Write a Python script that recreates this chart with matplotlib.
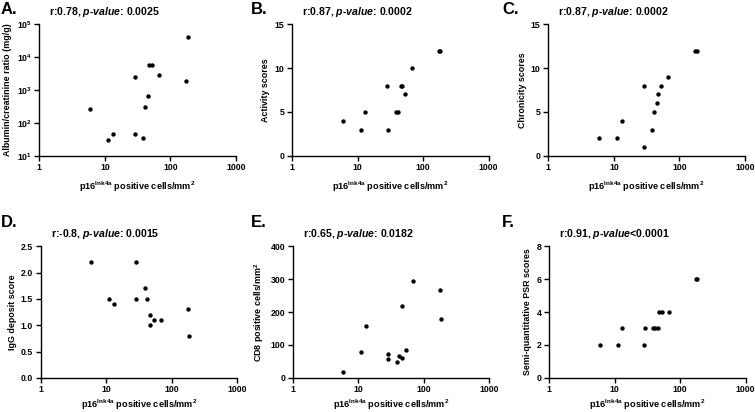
import numpy as np
import matplotlib
matplotlib.use("Agg")
import matplotlib.pyplot as plt
from matplotlib.ticker import NullLocator, FixedLocator

plt.rcParams['font.family'] = ['Liberation Sans', 'DejaVu Sans']
plt.rcParams['font.weight'] = 'bold'
plt.rcParams['mathtext.fontset'] = 'custom'
plt.rcParams['mathtext.default'] = 'regular'
plt.rcParams['mathtext.it'] = 'Liberation Sans:italic:bold'
plt.rcParams['mathtext.rm'] = 'Liberation Sans:bold'

# p16Ink4a positive cells/mm2 (same cases in every panel)
p16 = [5.9, 11.2, 13.1, 28.5, 28.7, 38.6, 41.5, 46.0, 46.8, 52.8, 68.0, 174, 184]

albumin = [270, 31, 46, 2430, 46, 36, 310, 640, 5800, 5800, 2860, 1840, 42000]
activity = [4, 3, 5, 8, 3, 5, 5, 8, 8, 7, 10, 12, 12]
chronicity = [2, 2, 4, 8, 1, 3, 5, 6, 7, 8, 9, 12, 12]
igg = [2.2, 1.5, 1.4, 2.2, 1.5, 1.7, 1.5, 1.2, 1.0, 1.1, 1.1, 1.3, 0.8]
cd8 = [17, 77, 157, 71, 57, 49, 67, 59, 217, 84, 295, 266, 180]
psr = [2, 2, 3, 2, 3, 3, 3, 3, 4, 4, 4, 6, 6]

panels = [
    ("A.", albumin, "Albumin/creatinine ratio (mg/g)", "r:0.78, $\\mathit{p}$-$\\mathit{value}$: 0.0025", None),
    ("B.", activity, "Activity scores", "r:0.87, $\\mathit{p}$-$\\mathit{value}$: 0.0002", [0, 5, 10, 15]),
    ("C.", chronicity, "Chronicity scores", "r:0.87, $\\mathit{p}$-$\\mathit{value}$: 0.0002", [0, 5, 10, 15]),
    ("D.", igg, "IgG deposit score", "r:-0.8, $\\mathit{p}$-$\\mathit{value}$: 0.0015", [0, 0.5, 1.0, 1.5, 2.0, 2.5]),
    ("E.", cd8, "CD8 positive cells/mm$^2$", "r:0.65, $\\mathit{p}$-$\\mathit{value}$: 0.0182", [0, 100, 200, 300, 400]),
    ("F.", psr, "Semi-quantitative PSR scores", "r:0.91, $\\mathit{p}$-$\\mathit{value}$<0.0001", [0, 2, 4, 6, 8]),
]

# axes boxes in pixels (left, top) for a 755x412 figure
W, H = 755, 412
boxes = [(39.3, 24.3), (292, 24.3), (548.3, 24.3),
         (40.7, 246.3), (292.7, 246.3), (549, 246.3)]
aw, ah = 196.7, 131.5
label_pos = [(1, 2), (251, 2), (502, 2), (1, 215), (251, 215), (502, 215)]

fig = plt.figure(figsize=(W / 100, H / 100), dpi=100)

for i, (lab, yv, ylab, title, yticks) in enumerate(panels):
    l, t = boxes[i]
    ax = fig.add_axes([l / W, 1 - (t + ah) / H, aw / W, ah / H])
    ax.scatter(p16, yv, s=10, color='black', linewidths=0, zorder=3, clip_on=False)
    ax.set_xscale('log')
    ax.set_xlim(1, 1000)
    ax.xaxis.set_major_locator(FixedLocator([1, 10, 100, 1000]))
    ax.xaxis.set_minor_locator(NullLocator())
    ax.set_xticklabels(['1', '10', '100', '1000'])
    if yticks is None:
        ax.set_yscale('log')
        ax.set_ylim(10, 1e5)
        ax.yaxis.set_major_locator(FixedLocator([10, 100, 1e3, 1e4, 1e5]))
        ax.yaxis.set_minor_locator(NullLocator())
        ax.set_yticklabels(['10$^{%d}$' % k for k in range(1, 6)])
    else:
        ax.set_ylim(yticks[0], yticks[-1])
        ax.set_yticks(yticks)
        if lab == "D.":
            ax.set_yticklabels(["%.1f" % v for v in yticks])
    for s in ['top', 'right']:
        ax.spines[s].set_visible(False)
    for s in ['left', 'bottom']:
        ax.spines[s].set_linewidth(1.0)
    ax.tick_params(direction='out', length=3.5, width=1.0, labelsize=6.3, pad=2)
    for tl in ax.get_xticklabels() + ax.get_yticklabels():
        tl.set_fontweight('bold')
    pad = 5 if i < 3 else 2.5
    ax.set_xlabel("p16$^{Ink4a}$ positive cells/mm$^2$", fontsize=6.6, fontweight='bold', labelpad=pad)
    ax.set_ylabel(ylab, fontsize=6.4, fontweight='bold', labelpad=3)
    ax.text(10 / aw, 1 + 5 / ah, title, transform=ax.transAxes, fontsize=7.6,
            fontweight='bold', ha='left', va='bottom')
    fig.text(label_pos[i][0] / W, 1 - label_pos[i][1] / H, lab, fontsize=12,
             fontweight='bold', ha='left', va='top')

fig.savefig("out.png", dpi=100)
